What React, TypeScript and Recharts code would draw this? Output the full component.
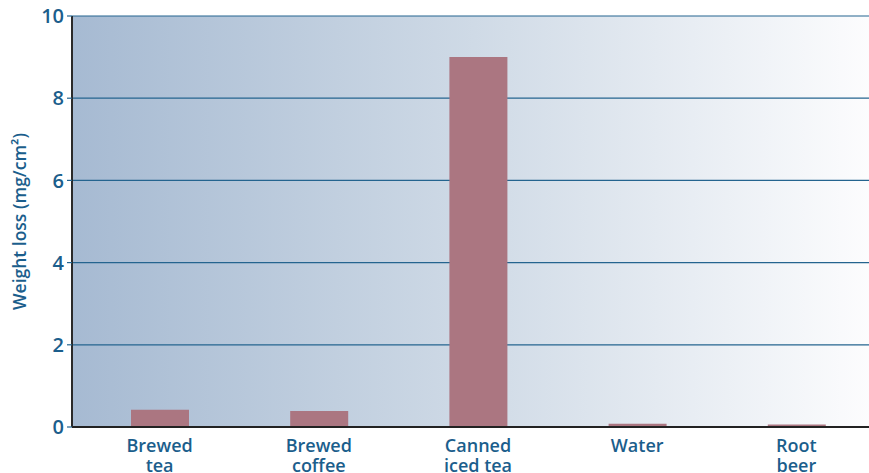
import React from 'react';
import { BarChart, Bar, XAxis, YAxis, CartesianGrid } from 'recharts';

const categories = ['Brewed tea', 'Brewed coffee', 'Canned iced tea', 'Water', 'Root beer'];
const categoryLines = [['Brewed', 'tea'], ['Brewed', 'coffee'], ['Canned', 'iced tea'], ['Water'], ['Root', 'beer']];
const weightLoss = [0.42, 0.39, 9.0, 0.08, 0.06];
const yTicks = [0, 2, 4, 6, 8, 10];
const yAxisTitle = 'Weight loss (mg/cm\u00B2)';

const data = categories.map((c, i) => ({ name: c, value: weightLoss[i] }));

const TEXT = '#1b5e8c';
const FONT = '"Open Sans", sans-serif';

const XTick = (props: any) => {
  const { x, y, index } = props;
  const lines = categoryLines[index] || [];
  return (
    <text x={x} y={y} textAnchor="middle" fill={TEXT} fontFamily={FONT} fontSize={18} fontWeight={600}>
      {lines.map((l, i) => (
        <tspan key={i} x={x} dy={i === 0 ? 17 : 20}>{l}</tspan>
      ))}
    </text>
  );
};

const YTitle = (props: any) => {
  const vb = props.viewBox || { x: 0, y: 16, width: 72, height: 411 };
  const cx = 26;
  const cy = vb.y + vb.height / 2;
  return (
    <text x={cx} y={cy} transform={`rotate(-90, ${cx}, ${cy})`} textAnchor="middle" fill={TEXT} fontFamily={FONT} fontSize={17.5} fontWeight={600}>
      {yAxisTitle}
    </text>
  );
};

export default function App() {
  return (
    <div style={{ position: 'absolute', left: 0, top: 0, width: 869, height: 473, overflow: 'hidden', background: '#fff' }}>
      <BarChart width={876} height={473} data={data} margin={{ top: 16, right: 0, bottom: 0, left: 0 }}>
        <defs>
          <linearGradient id="bgGrad" x1="0" y1="0" x2="1" y2="0">
            <stop offset="0%" stopColor="#a6bad2" />
            <stop offset="50%" stopColor="#cfdae6" />
            <stop offset="100%" stopColor="#fdfdfe" />
          </linearGradient>
        </defs>
        <CartesianGrid vertical={false} stroke="#24648f" strokeWidth={1.2} fill="url(#bgGrad)" fillOpacity={1} />
        <XAxis
          dataKey="name"
          height={46}
          padding={{ left: 8, right: 0 }}
          axisLine={{ stroke: '#222', strokeWidth: 2 }}
          tickLine={false}
          tick={<XTick />}
          interval={0}
        />
        <YAxis
          width={72}
          domain={[0, 10]}
          ticks={yTicks}
          interval={0}
          axisLine={{ stroke: '#2a2a2a', strokeWidth: 2 }}
          tickLine={{ stroke: '#24648f', strokeWidth: 1.2 }}
          tickSize={5}
          tickMargin={3}
          tick={{ fill: TEXT, fontFamily: FONT, fontSize: 20, fontWeight: 600 }}
          label={<YTitle />}
        />
        <Bar dataKey="value" fill="#ab7681" barSize={58} isAnimationActive={false} />
      </BarChart>
    </div>
  );
}
